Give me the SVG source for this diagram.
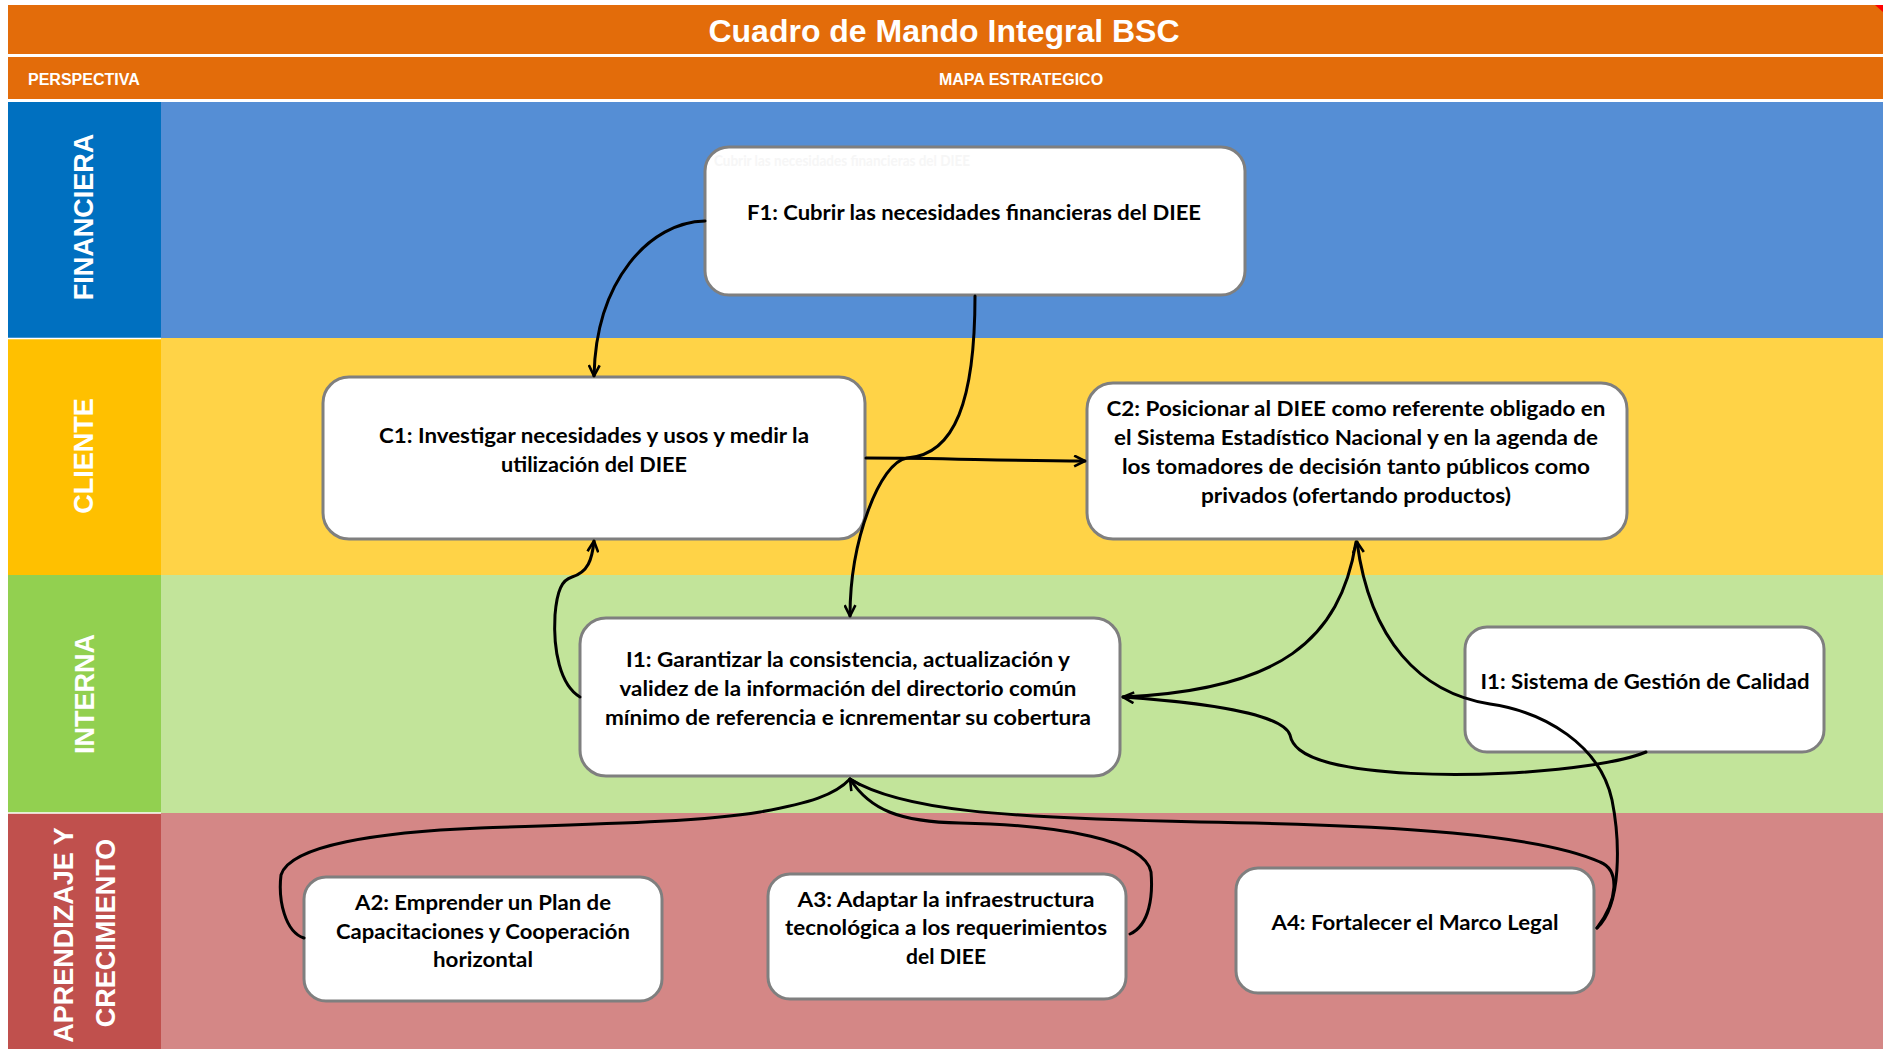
<svg xmlns="http://www.w3.org/2000/svg" width="1883" height="1049" viewBox="0 0 1883 1049">
<style>
.hdr{font-family:"Liberation Sans",Arial,sans-serif;font-weight:bold;fill:#FFFFFF}
.lbl{font-family:"Liberation Sans",Arial,sans-serif;font-weight:bold;font-size:27px;fill:#FFFFFF;text-anchor:middle}
.box{fill:#FFFFFF;stroke:#7F7F7F;stroke-width:3}
.t{font-family:Lato,"Liberation Sans",sans-serif;font-weight:bold;font-size:20px;fill:#000000;text-anchor:middle}
.con{fill:none;stroke:#000000;stroke-width:3;stroke-linecap:round}
</style>
<defs>
<marker id="arr" viewBox="0 0 12 12" refX="11" refY="6" markerWidth="13" markerHeight="13" markerUnits="userSpaceOnUse" orient="auto">
<path d="M1,1 L11,6 L1,11" fill="none" stroke="#000000" stroke-width="2.4" stroke-linejoin="miter"/>
</marker>
</defs>
<rect x="0" y="0" width="1883" height="1049" fill="#FFFFFF"/>
<!-- header -->
<g id="header">
<rect x="8" y="5" width="1875" height="49" fill="#E36C0A"/>
<rect x="8" y="57" width="1875" height="42" fill="#E36C0A"/>
<polygon points="1875,5 1883,5 1883,12" fill="#FF0000"/>
<text class="hdr" x="944" y="42" font-size="32" text-anchor="middle">Cuadro de Mando Integral BSC</text>
<text class="hdr" x="28" y="85" font-size="16">PERSPECTIVA</text>
<text class="hdr" x="1021" y="85" font-size="16" text-anchor="middle">MAPA ESTRATEGICO</text>
</g>
<!-- bands -->
<g id="bands">
<rect x="161" y="102" width="1722" height="236" fill="#558ED5"/>
<rect x="161" y="338" width="1722" height="237" fill="#FFD347"/>
<rect x="161" y="575" width="1722" height="238" fill="#C2E49A"/>
<rect x="161" y="813" width="1722" height="236" fill="#D48786"/>
<rect x="8" y="102" width="153" height="236" fill="#0070C0"/>
<rect x="8" y="338" width="153" height="237" fill="#FFC000"/>
<rect x="8" y="575" width="153" height="238" fill="#92D050"/>
<rect x="8" y="813" width="153" height="236" fill="#C0504D"/>
<line x1="8" y1="338.5" x2="161" y2="338.5" stroke="#FFFFFF" stroke-width="1.5"/>
<line x1="8" y1="813" x2="161" y2="813" stroke="#FFFFFF" stroke-width="1.5"/>
<text class="lbl" transform="translate(93,217) rotate(-90)">FINANCIERA</text>
<text class="lbl" transform="translate(93,456) rotate(-90)">CLIENTE</text>
<text class="lbl" transform="translate(94,694) rotate(-90)">INTERNA</text>
<text class="lbl" transform="translate(73,935) rotate(-90)">APRENDIZAJE Y</text>
<text class="lbl" transform="translate(115,933) rotate(-90)">CRECIMIENTO</text>
</g>
<!-- nodes -->
<g id="F1">
<rect class="box" x="705" y="147" width="540" height="148" rx="24"/>
<text x="714" y="166" font-family="Lato,'Liberation Sans',sans-serif" font-weight="bold" font-size="15" fill="#F6F6F6" textLength="256" lengthAdjust="spacingAndGlyphs">Cubrir las necesidades financieras del DIEE</text>
<text class="t" x="974" y="220" textLength="454" lengthAdjust="spacingAndGlyphs">F1: Cubrir las necesidades financieras del DIEE</text>
</g>
<g id="C1">
<rect class="box" x="323" y="377" width="542" height="162" rx="26"/>
<text class="t" x="594" y="443" textLength="430" lengthAdjust="spacingAndGlyphs">C1: Investigar necesidades y usos y medir la</text>
<text class="t" x="594" y="472" textLength="186" lengthAdjust="spacingAndGlyphs">utilización del DIEE</text>
</g>
<g id="C2">
<rect class="box" x="1087" y="383" width="540" height="156" rx="26"/>
<text class="t" x="1356" y="416" textLength="499" lengthAdjust="spacingAndGlyphs">C2: Posicionar al DIEE como referente  obligado  en</text>
<text class="t" x="1356" y="445" textLength="484" lengthAdjust="spacingAndGlyphs">el Sistema Estadístico Nacional  y en la agenda de</text>
<text class="t" x="1356" y="474" textLength="468" lengthAdjust="spacingAndGlyphs">los tomadores de decisión  tanto públicos como</text>
<text class="t" x="1356" y="503" textLength="310" lengthAdjust="spacingAndGlyphs">privados (ofertando productos)</text>
</g>
<g id="I1">
<rect class="box" x="580" y="618" width="540" height="158" rx="26"/>
<text class="t" x="848" y="667" textLength="444" lengthAdjust="spacingAndGlyphs">I1: Garantizar la consistencia, actualización  y</text>
<text class="t" x="848" y="696" textLength="457" lengthAdjust="spacingAndGlyphs">validez de la información del directorio común</text>
<text class="t" x="848" y="725" textLength="486" lengthAdjust="spacingAndGlyphs">mínimo de referencia e icnrementar su cobertura</text>
</g>
<g id="I1b">
<rect class="box" x="1465" y="627" width="359" height="125" rx="22"/>
<text class="t" x="1645" y="689" textLength="329" lengthAdjust="spacingAndGlyphs">I1: Sistema de Gestión de Calidad</text>
</g>
<g id="A2">
<rect class="box" x="304" y="877" width="358" height="124" rx="22"/>
<text class="t" x="483" y="910" textLength="256" lengthAdjust="spacingAndGlyphs">A2: Emprender un Plan de</text>
<text class="t" x="483" y="939" textLength="294" lengthAdjust="spacingAndGlyphs">Capacitaciones y Cooperación</text>
<text class="t" x="483" y="967" textLength="100" lengthAdjust="spacingAndGlyphs">horizontal</text>
</g>
<g id="A3">
<rect class="box" x="768" y="874" width="358" height="125" rx="22"/>
<text class="t" x="946" y="907" textLength="297" lengthAdjust="spacingAndGlyphs">A3: Adaptar la infraestructura</text>
<text class="t" x="946" y="935" textLength="322" lengthAdjust="spacingAndGlyphs">tecnológica a los requerimientos</text>
<text class="t" x="946" y="964" textLength="80" lengthAdjust="spacingAndGlyphs">del DIEE</text>
</g>
<g id="A4">
<rect class="box" x="1236" y="868" width="358" height="125" rx="22"/>
<text class="t" x="1415" y="930" textLength="287" lengthAdjust="spacingAndGlyphs">A4: Fortalecer el Marco Legal</text>
</g>
<!-- connectors -->
<g id="connectors">
<path class="con" d="M705,221 C650,222 596,280 594,376" marker-end="url(#arr)"/>
<path class="con" d="M975,296 C975,400 955,455 907,458 C880,462 850,540 850,616" marker-end="url(#arr)"/>
<path class="con" d="M866,458 C950,458 1000,461 1085,461" marker-end="url(#arr)"/>
<path class="con" d="M580,697 C560,685 553,650 555,615 C557,590 562,580 572,577 C588,572 592,560 594,541" marker-end="url(#arr)"/>
<path class="con" d="M1646,752 C1600,772 1420,785 1330,763 C1300,755 1292,745 1290,735 C1285,720 1240,705 1123,697" marker-end="url(#arr)"/>
<path class="con" d="M1356,542 C1340,640 1280,690 1123,697"/>
<path class="con" d="M1597,928 C1622,905 1620,840 1612,800 C1600,745 1545,712 1490,704 C1420,693 1370,640 1357,542" marker-end="url(#arr)"/>
<path class="con" d="M1597,928 C1618,900 1620,870 1600,862 C1540,835 1400,825 1200,822 C1000,818 900,810 850,779"/>
<path class="con" d="M1130,934 C1150,925 1153,895 1151,872 C1145,840 1060,825 960,823 C900,822 870,810 850,779" marker-end="url(#arr)"/>
<path class="con" d="M304,938 C285,932 278,900 281,875 C290,845 380,832 480,828 C600,824 700,822 760,812 C810,803 835,795 850,779"/>
</g>
</svg>
